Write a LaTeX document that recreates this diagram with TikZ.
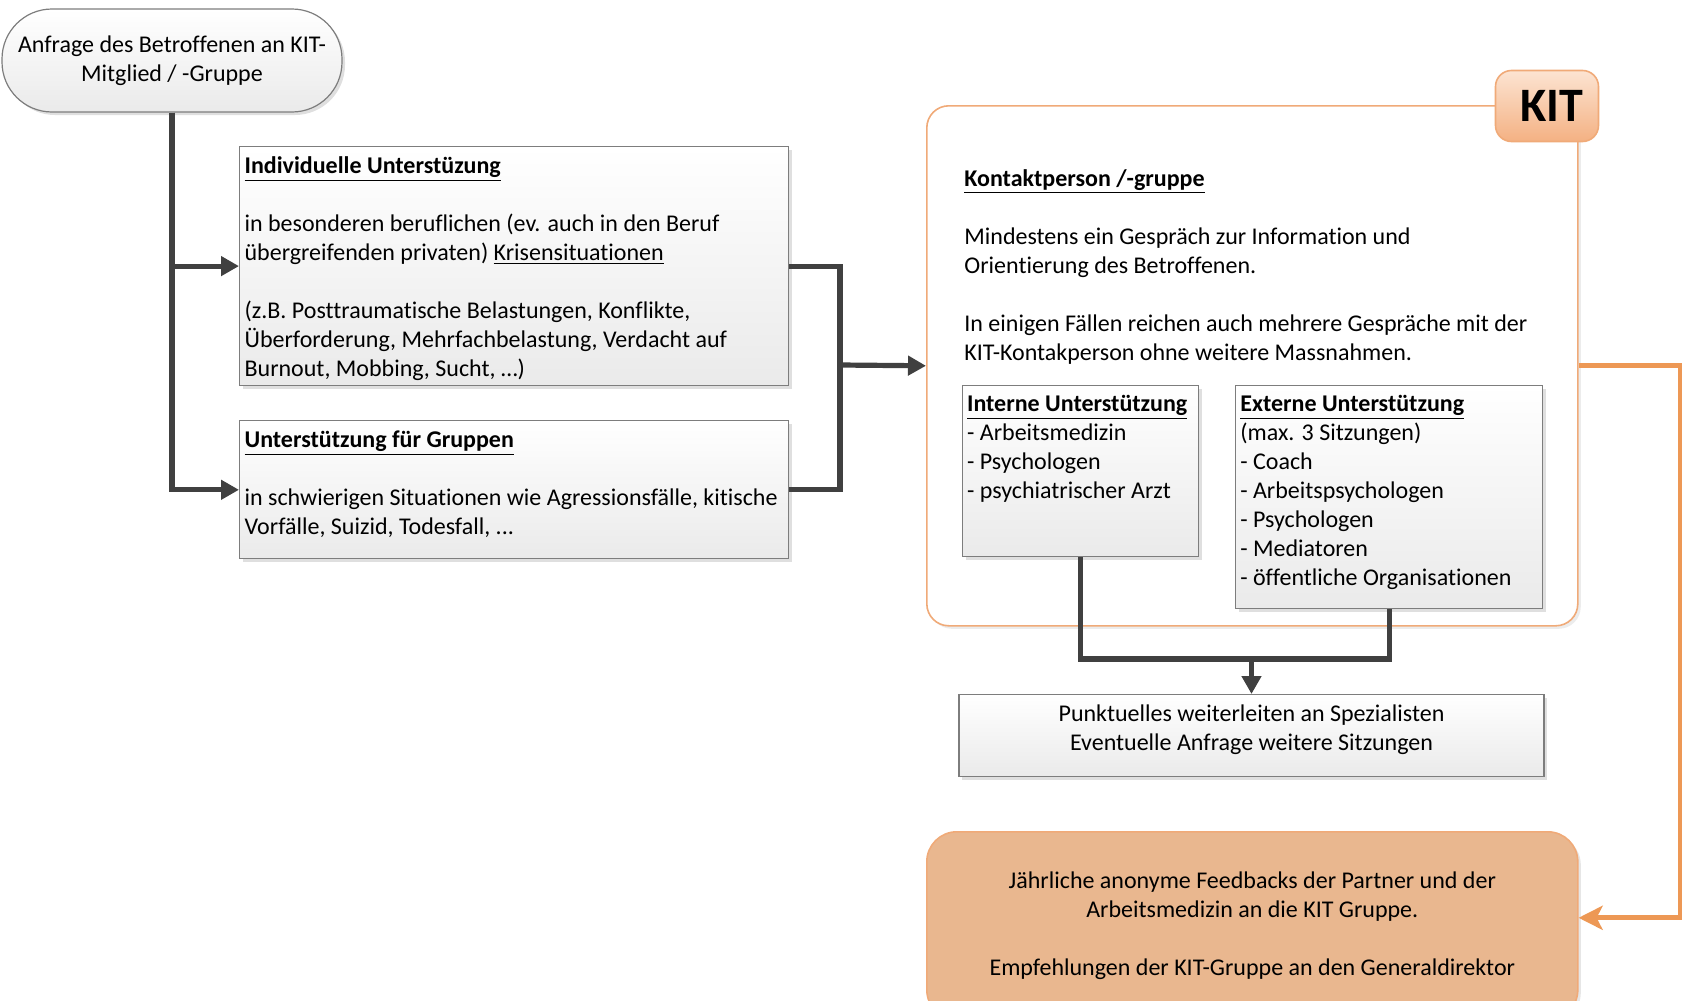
\documentclass[tikz,border=0pt]{standalone}
\usepackage{fontspec}
\setmainfont[Ligatures={TeX,NoCommon}]{Carlito}
\usepackage{tikz}
\usepackage{xcolor}
\definecolor{linedark}{RGB}{64, 64, 64}
\definecolor{boxedge}{RGB}{125, 125, 125}
\definecolor{boxshade}{RGB}{234, 234, 234}
\definecolor{kitedge}{RGB}{240, 170, 120}
\definecolor{kittop}{RGB}{252, 228, 210}
\definecolor{kitbottom}{RGB}{244, 177, 131}
\definecolor{feedfill}{RGB}{233, 183, 143}
\definecolor{feedline}{RGB}{237, 152, 85}
\newcommand{\boxtext}[3]{\parbox[c][#2][t]{#1}{\raggedright\vspace*{2.4pt}#3}}
\usetikzlibrary{arrows.meta, positioning, shadows, calc}

\begin{document}
\begin{tikzpicture}[x=0.5pt, y=-0.5pt,
    every node/.style={font=\fontsize{12}{14.5}\selectfont},
    greybox/.style={draw=boxedge, line width=0.6pt, top color=white, bottom color=boxshade,
      inner sep=2.5pt, anchor=north west,
      drop shadow={shadow xshift=1.5pt, shadow yshift=-1.5pt, opacity=0.25}},
    darkarrow/.style={draw=linedark, line width=2.6pt, -{Triangle[length=9pt, width=9.5pt]}},
    darkjoin/.style={draw=linedark, line width=2.6pt},
    feedarrow/.style={draw=feedline, line width=2.6pt, -{Stealth[length=12pt, width=12pt, inset=3pt]}}]
  \clip (0,0) rectangle (1682,1001);

  % left side
  \node[greybox, anchor=center, rounded corners=25pt, minimum width=170pt, minimum height=51.5pt,
        align=center]
    (start) at (172,60.5) {Anfrage des Betroffenen an KIT-\\Mitglied / -Gruppe};
  \node[greybox] (ind) at (239,146)
    {\boxtext{269.5pt}{114.5pt}{\underline{\textbf{Individuelle Unterstüzung}}\\[14.5pt]
      in besonderen beruflichen (ev. auch in den Beruf\\
      übergreifenden privaten) \underline{Krisensituationen}\\[14.5pt]
      (z.B. Posttraumatische Belastungen, Konflikte,\\
      Überforderung, Mehrfachbelastung, Verdacht auf\\
      Burnout, Mobbing, Sucht, …)}};
  \node[greybox, below=17pt of ind.south west, anchor=north west] (gru)
    {\boxtext{269.5pt}{64pt}{\underline{\textbf{Unterstützung für Gruppen}}\\[14.5pt]
      in schwierigen Situationen wie Agressionsfälle, kitische\\
      Vorfälle, Suizid, Todesfall, ...}};

  % KIT
  \node[draw=kitedge, line width=0.8pt, fill=white, rounded corners=11pt, anchor=north west,
        minimum width=325.5pt, minimum height=260pt,
        drop shadow={shadow xshift=1.5pt, shadow yshift=-1.5pt, opacity=0.15}]
    (kit) at (926,105) {};
  \node[draw=kitedge, line width=0.8pt, top color=kittop, bottom color=kitbottom, rounded corners=8pt,
        minimum width=51.5pt, minimum height=35.5pt, font=\fontsize{24}{28}\selectfont\bfseries]
    (kittag) at (1547,106) {\hspace*{5pt}KIT};
  \node[anchor=base west, inner sep=0pt] (kontakt) at (964,186)
    {\parbox[t]{300pt}{\raggedright \underline{\textbf{Kontaktperson /-gruppe}}\\[14.5pt]
      Mindestens ein Gespräch zur Information und\\
      Orientierung des Betroffenen.\\[14.5pt]
      In einigen Fällen reichen auch mehrere Gespräche mit der\\
      KIT-Kontakperson ohne weitere Massnahmen.}};
  \node[greybox, inner sep=2.25pt] (int) at (962,385)
    {\boxtext{113.5pt}{81pt}{\underline{\textbf{Interne Unterstützung}}\\
      - Arbeitsmedizin\\
      - Psychologen\\
      - psychiatrischer Arzt}};
  \node[greybox, inner sep=2.25pt, right=18pt of int.north east, anchor=north west] (ext)
    {\boxtext{149pt}{107pt}{\underline{\textbf{Externe Unterstützung}}\\
      (max. 3 Sitzungen)\\
      - Coach\\
      - Arbeitspsychologen\\
      - Psychologen\\
      - Mediatoren\\
      - öffentliche Organisationen}};
  \node[greybox, anchor=north, inner sep=2.5pt] (punkt) at (1251.5,694)
    {\parbox[c][36pt][t]{287.5pt}{\centering\vspace*{2.4pt}Punktuelles weiterleiten an Spezialisten\\
      Eventuelle Anfrage weitere Sitzungen}};
  \node[draw=kitedge, line width=0.8pt, fill=feedfill, rounded corners=15pt, anchor=north west,
        minimum width=325.5pt, minimum height=94pt, align=center,
        drop shadow={shadow xshift=1.5pt, shadow yshift=-1.5pt, opacity=0.2}]
    (feedback) at (926,831) {Jährliche anonyme Feedbacks der Partner und der\\
      Arbeitsmedizin an die KIT Gruppe.\\[14.5pt]
      Empfehlungen der KIT-Gruppe an den Generaldirektor};

  \coordinate (join) at (840,365);
  \coordinate (merge) at (1251.5,659);

  \draw[darkarrow] (start.south) |- (ind.west);
  \draw[darkarrow] (start.south) |- (gru.west);
  \draw[darkjoin] (ind.east) -| (join) |- (gru.east);
  \draw[darkarrow] (join) -- (kit.west);
  \draw[darkjoin] (int.south) |- (merge) -| (ext.south);
  \draw[darkarrow] (merge) -- (punkt.north);
  \draw[feedarrow] (kit.east) -- ++(102,0) |- ([yshift=4pt]feedback.east);
\end{tikzpicture}
\end{document}
